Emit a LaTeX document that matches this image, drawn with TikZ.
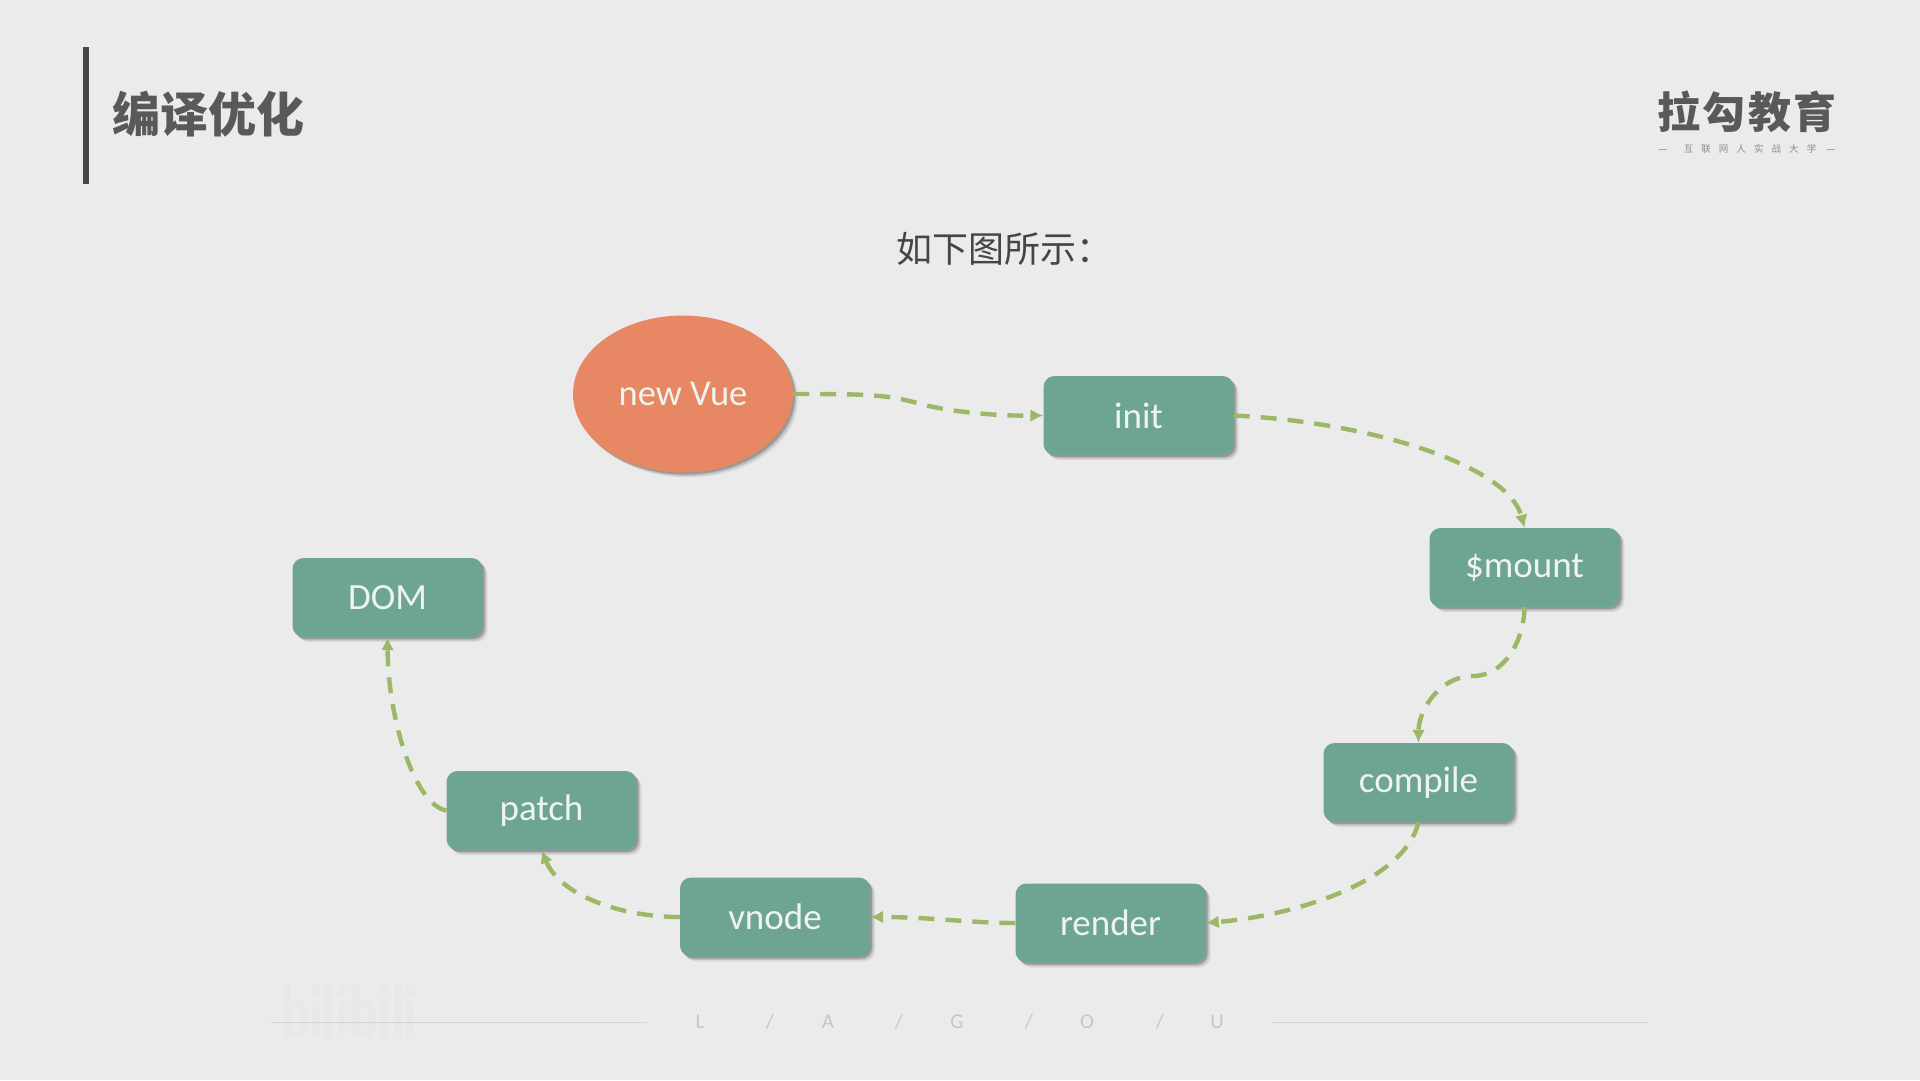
\documentclass[tikz,border=0pt]{standalone}
\usepackage{fontspec}
\setmainfont{Carlito}
\newfontfamily\cjk{Noto Sans CJK SC}
\usetikzlibrary{arrows.meta,shadows,shapes.geometric}
\definecolor{pagebg}{HTML}{EBEBEB}
\definecolor{boxgreen}{HTML}{6DA590}
\definecolor{vueorange}{HTML}{E88763}
\definecolor{flowgreen}{HTML}{9AB866}
\definecolor{labelwhite}{HTML}{EEF4EF}

\begin{document}
\begin{tikzpicture}[x=1pt, y=-1pt,
    softshadow/.style={
      drop shadow={shadow xshift=5pt, shadow yshift=-5pt, fill=black, opacity=0.07},
      drop shadow={shadow xshift=3.5pt, shadow yshift=-3.5pt, fill=black, opacity=0.12},
      drop shadow={shadow xshift=2pt, shadow yshift=-2pt, fill=black, opacity=0.2}},
    stepbox/.style={draw=none, fill=boxgreen, rounded corners=11pt, minimum width=190pt, minimum height=79pt,
      inner sep=0pt, text=labelwhite, font=\fontsize{37}{40}\selectfont, softshadow},
    flow/.style={draw=flowgreen, line width=4.4pt, dash pattern=on 16pt off 11pt, -{Latex[length=13pt, width=13pt]}},
    footline/.style={draw=black!17, line width=1.6pt}]
  \def\cw{1920} \def\ch{1080}
  \fill[pagebg] (0,0) rectangle (\cw,\ch);
  \useasboundingbox (0,0) rectangle (\cw,\ch);

  % Title
  \fill[black!72] (83,47) rectangle (88.5,184);
  \node[font=\cjk\bfseries\fontsize{48}{50}\selectfont, text=black!65, anchor=west, inner sep=0pt] (title) at (112,114) {编译优化};
  \node[font=\cjk\fontsize{36}{38}\selectfont, text=black!73, anchor=west, inner sep=0pt] (subtitle) at (896,249) {如下图所示：};

  % Logo
  \node[font=\cjk\bfseries\fontsize{43}{46}\selectfont\addfontfeature{LetterSpace=5}, text=black!65, inner sep=0pt] (logo) at (1747,112) {拉勾教育};
  \node[font=\cjk\fontsize{9.5}{11}\selectfont\addfontfeature{LetterSpace=85}, text=black!45, inner sep=0pt] (slogan) at (1750,149) {互联网人实战大学};
  \draw[black!35, line width=0.8pt] (1659,149) -- (1667,149);
  \draw[black!35, line width=0.8pt] (1827,149) -- (1835,149);

  % Flow
  \node[ellipse, fill=vueorange, minimum width=220pt, minimum height=157pt, inner sep=0pt, text=labelwhite,
    font=\fontsize{36.5}{40}\selectfont, softshadow] (newvue) at (683,394) {new Vue};
  \node[stepbox] (init) at (1138.5,415.5) {init};
  \node[stepbox] (mount) at (1524.5,567.5) {\$mount};
  \node[stepbox] (compile) at (1418.5,782.5) {compile};
  \node[stepbox] (render) at (1110.5,923) {render};
  \node[stepbox] (vnode) at (775,917) {vnode};
  \node[stepbox] (patch) at (541.5,810.5) {patch};
  \node[stepbox] (dom) at (387.5,597.5) {DOM};

  \draw[flow] (newvue.east) .. controls (860,394) and (885,394) .. (917,403) .. controls (945,411) and (990,416) .. (init.west);
  \draw[flow] (init.east) .. controls (1370,422) and (1508,465) .. (mount.north);
  \draw[flow] (mount.south) .. controls (1524,640) and (1505,676) .. (1473,676) .. controls (1440,676) and (1418.5,710) .. (compile.north);
  \draw[flow] (compile.south) .. controls (1405,880) and (1300,915) .. (render.east);
  \draw[flow] (render.west) .. controls (970,923) and (930,917) .. (vnode.east);
  \draw[flow] (vnode.west) .. controls (620,917) and (560,895) .. (patch.south);
  \draw[flow] (patch.west) .. controls (415,805) and (388,720) .. (dom.south);

  % Footer
  \node[font=\bfseries\fontsize{62}{64}\selectfont, text=black!9, inner sep=0pt, xscale=0.87, yscale=1.25] (bili) at (349,1012) {bilibili};
  \draw[footline] (271,1022.5) -- (647,1022.5);
  \draw[footline] (1272,1022.5) -- (1648,1022.5);
  \foreach \xpos/\lbl in {700/L,770/{/},828/A,899/{/},957/G,1029/{/},1087/O,1160/{/},1217/U} {
    \node[font=\fontsize{21}{23}\selectfont, text=black!22, inner sep=0pt] at (\xpos,1022) {\lbl};
  }
\end{tikzpicture}
\end{document}
